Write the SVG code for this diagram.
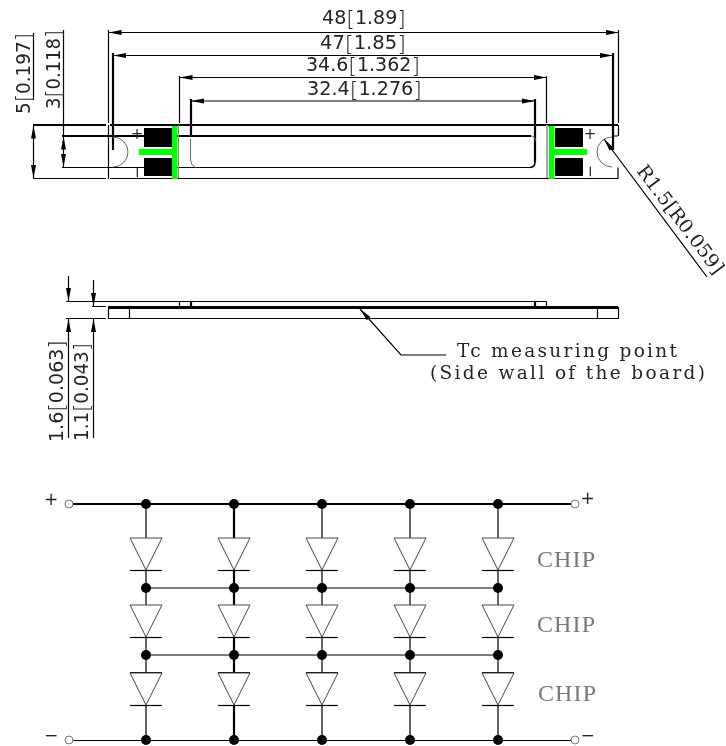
<svg xmlns="http://www.w3.org/2000/svg" width="726" height="746" viewBox="0 0 726 746">
<style>
.l{stroke:#000;stroke-width:1.2;fill:none}
.t{stroke:#000;stroke-width:2.2;fill:none}
.g{stroke:#666;stroke-width:1;fill:none}
.d{stroke:#000;stroke-width:1.2;fill:none;marker-start:url(#a);marker-end:url(#a)}
.e{stroke:#000;stroke-width:1.2;fill:none;marker-end:url(#a)}
.x{font-family:"DejaVu Sans","Liberation Sans",sans-serif;font-size:19px;fill:#222}
.b{font-size:22px;font-weight:200}
.c{font-family:"Liberation Serif","DejaVu Serif",serif;font-size:24px;fill:#777}
.m{font-family:"DejaVu Serif","Liberation Serif",serif;font-size:18.500px;fill:#222}
.r{font-family:"DejaVu Serif","Liberation Serif",serif;font-size:19px;fill:#222}
.s{font-family:"DejaVu Sans","Liberation Sans",sans-serif;font-size:17px;fill:#222}
.o{fill:#fff;stroke:#777;stroke-width:1}
</style>
<defs>
<marker id="a" markerUnits="userSpaceOnUse" markerWidth="14" markerHeight="6" refX="13" refY="3" orient="auto-start-reverse"><path d="M0,.5L13,3L0,5.500z" fill="#000"/></marker>
<g id="diode"><path d="M-16,0H16L0,32z" fill="#fff" stroke="#444" stroke-width="1"/><path d="M-16,32.500H16" class="l"/></g>
</defs>

<g id="top-view">
<path class="t" d="M33,125H106M110,125H618M62,136H531"/>
<path class="l" d="M33,178.500H106M110,178.500H618V167.500M62,167.500H530M618.500,125V136M612,136H618"/>
<path class="l" d="M108.500,30V123M108.500,125V179"/>
<path class="t" d="M113,53V150"/>
<path class="l" d="M179.500,76V123"/>
<path class="t" d="M191,99V136"/>
<path class="t" d="M535,99V162"/>
<path class="l" d="M546.500,76V123M618.500,30V123"/>
<path class="t" d="M613,53V150"/>
<path class="g" d="M113,137A15,15 0 0 1 113,167M612,137A15,15 0 0 0 612,167M190.500,139V160Q190.500,165 196,168M531,136Q535,136 535.500,141"/>
<path d="M535,162Q535,167 530,167.500" stroke="#000" stroke-width="1.500" fill="none"/>
<rect x="144" y="128" width="28" height="19" fill="#000"/><rect x="144" y="158" width="28" height="18" fill="#000"/>
<rect x="172" y="126" width="5.500" height="53" fill="#0f0"/><rect x="139" y="149" width="33" height="6" fill="#0f0"/>
<path d="M178.500,125V178" stroke="#888" stroke-width="1"/>
<path d="M547,125V178" stroke="#aaa" stroke-width="2"/>
<rect x="555" y="128" width="28" height="19" rx="1" fill="#000"/><rect x="555" y="158" width="28" height="18" rx="1" fill="#000"/>
<rect x="549" y="126" width="5.500" height="53" fill="#0f0"/><rect x="554" y="149" width="33" height="6" fill="#0f0"/>
</g>

<g id="side-view">
<path class="l" d="M66,301.500H547M92,306.500H106M66,318.500H106M108.500,307V318.500H618.500V307M129.500,308V318M597.500,308V318M179.500,302V307M546.500,302V307"/>
<path class="t" d="M191,302V307M535,302V307"/>
<path stroke="#000" stroke-width="3" d="M108,307.500H618"/>
</g>

<g id="connectors">
<path class="d" d="M108.500,32.500H618.500"/>
<path class="d" d="M113,55.500H613"/>
<path class="d" d="M179.500,77.500H546.500"/>
<path class="d" d="M191,101H535"/>
<path class="d" d="M33.500,125.500V178"/>
<path class="d" d="M63.500,136.500V167"/>
<path class="l" d="M63.500,30V136M33.500,33V100"/>
<path class="e" d="M68.500,276V301"/>
<path class="e" d="M93.500,280V306"/>
<path class="e" d="M68.500,438V319"/>
<path class="e" d="M93.500,438V319"/>
<path class="e" d="M707,277L604,139" stroke-width="1"/>
<path class="e" d="M446,355H401L360,309" stroke-width="1"/>
<path class="t" d="M73,504H571"/>
<path class="l" d="M73,740.500H571M146,588H498M146,655H498"/>
<path class="l" d="M146,504V538M146,570V605M146,637V673M146,705V740M322,504V538M322,570V605M322,637V673M322,705V740M410,504V538M410,570V605M410,637V673M410,705V740M498,504V538M498,570V605M498,637V673M498,705V740"/>
<path class="t" d="M234,504V538M234,570V605M234,637V673M234,705V740"/>
<path class="t" d="M130,673H162M218,673H250M306,673H338M394,673H426M482,673H514"/>
</g>

<g id="labels" opacity=".99">
<text class="x" x="322" y="24" textLength="84" lengthAdjust="spacingAndGlyphs">48<tspan class="b" dy="2">[</tspan><tspan dy="-2">1.89</tspan><tspan class="b" dy="2">]</tspan></text>
<text class="x" x="320" y="49" textLength="86" lengthAdjust="spacingAndGlyphs">47<tspan class="b" dy="2">[</tspan><tspan dy="-2">1.85</tspan><tspan class="b" dy="2">]</tspan></text>
<text class="x" x="306" y="71" textLength="114" lengthAdjust="spacingAndGlyphs">34.6<tspan class="b" dy="2">[</tspan><tspan dy="-2">1.362</tspan><tspan class="b" dy="2">]</tspan></text>
<text class="x" x="307" y="95" textLength="115" lengthAdjust="spacingAndGlyphs">32.4<tspan class="b" dy="2">[</tspan><tspan dy="-2">1.276</tspan><tspan class="b" dy="2">]</tspan></text>
<text class="x" transform="translate(29.500,114) rotate(-90)" textLength="81" lengthAdjust="spacingAndGlyphs">5<tspan class="b" dy="1">[</tspan><tspan dy="-1">0.197</tspan><tspan class="b" dy="1">]</tspan></text>
<text class="x" transform="translate(60,109) rotate(-90)" textLength="79" lengthAdjust="spacingAndGlyphs">3<tspan class="b" dy="1">[</tspan><tspan dy="-1">0.118</tspan><tspan class="b" dy="1">]</tspan></text>
<text class="x" transform="translate(62.500,442) rotate(-90)" textLength="102" lengthAdjust="spacingAndGlyphs">1.6<tspan class="b" dy="1">[</tspan><tspan dy="-1">0.063</tspan><tspan class="b" dy="1">]</tspan></text>
<text class="x" transform="translate(88,441) rotate(-90)" textLength="98" lengthAdjust="spacingAndGlyphs">1.1<tspan class="b" dy="1">[</tspan><tspan dy="-1">0.043</tspan><tspan class="b" dy="1">]</tspan></text>
<text class="r" transform="translate(636,171) rotate(53)" textLength="131" lengthAdjust="spacingAndGlyphs">R1.5[R0.059]</text>
<text class="m" x="457" y="357" textLength="220" lengthAdjust="spacing">Tc measuring point</text>
<text class="m" x="430" y="379" textLength="275" lengthAdjust="spacing">(Side wall of the board)</text>
<text class="c" x="537" y="567" textLength="58" lengthAdjust="spacing">CHIP</text>
<text class="c" x="537" y="632" textLength="58" lengthAdjust="spacing">CHIP</text>
<text class="c" x="538" y="701" textLength="58" lengthAdjust="spacing">CHIP</text>
<text class="s" x="51" y="504.500" text-anchor="middle">+</text>
<text class="s" x="51" y="740.500" text-anchor="middle">−</text>
<text class="s" x="587.500" y="504" text-anchor="middle">+</text>
<text class="s" x="587.500" y="740.500" text-anchor="middle">−</text>
<text class="s" x="137" y="138.500" text-anchor="middle" style="font-size:15px">+</text>
<text class="s" x="590" y="138.500" text-anchor="middle" style="font-size:15px">+</text>
<text class="s" transform="translate(142,172.500) rotate(-90)" text-anchor="middle" style="font-size:15px">−</text>
<text class="s" transform="translate(595,171.500) rotate(-90)" text-anchor="middle" style="font-size:15px">−</text>
</g>

<g id="terminals">
<circle class="o" cx="69" cy="504" r="4"/><circle class="o" cx="575" cy="504" r="4"/><circle class="o" cx="69" cy="740" r="4"/><circle class="o" cx="575" cy="740" r="4"/>
</g>

<g id="chips">
<use href="#diode" x="146" y="538"/><use href="#diode" x="234" y="538"/><use href="#diode" x="322" y="538"/><use href="#diode" x="410" y="538"/><use href="#diode" x="498" y="538"/>
<use href="#diode" x="146" y="605"/><use href="#diode" x="234" y="605"/><use href="#diode" x="322" y="605"/><use href="#diode" x="410" y="605"/><use href="#diode" x="498" y="605"/>
<use href="#diode" x="146" y="673"/><use href="#diode" x="234" y="673"/><use href="#diode" x="322" y="673"/><use href="#diode" x="410" y="673"/><use href="#diode" x="498" y="673"/>
</g>

<g id="junctions" fill="#000">
<circle cx="146" cy="504" r="5"/><circle cx="234" cy="504" r="5"/><circle cx="322" cy="504" r="5"/><circle cx="410" cy="504" r="5"/><circle cx="498" cy="504" r="5"/>
<circle cx="146" cy="588" r="5"/><circle cx="234" cy="588" r="5"/><circle cx="322" cy="588" r="5"/><circle cx="410" cy="588" r="5"/><circle cx="498" cy="588" r="5"/>
<circle cx="146" cy="655" r="5"/><circle cx="234" cy="655" r="5"/><circle cx="322" cy="655" r="5"/><circle cx="410" cy="655" r="5"/><circle cx="498" cy="655" r="5"/>
<circle cx="146" cy="740" r="5"/><circle cx="234" cy="740" r="5"/><circle cx="322" cy="740" r="5"/><circle cx="410" cy="740" r="5"/><circle cx="498" cy="740" r="5"/>
</g>
</svg>
